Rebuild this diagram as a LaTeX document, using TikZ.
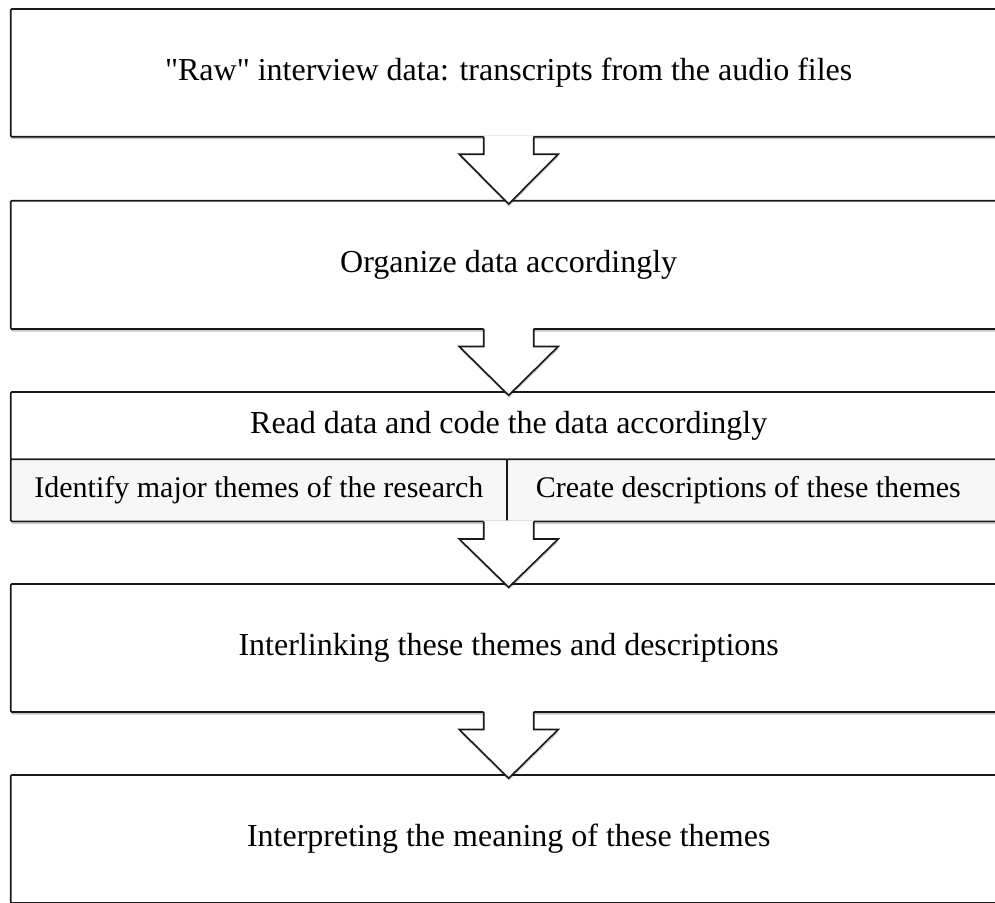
\documentclass[tikz,border=0pt]{standalone}
\usepackage{fontspec}
\setmainfont{Liberation Serif}
\usetikzlibrary{calc,shadows}

\tikzset{
  boxshadow/.style={drop shadow={shadow xshift=0.4pt, shadow yshift=-2.5pt, opacity=0.22, fill=black}},
  stage/.style={draw=black!90, line width=1.6pt, fill=white, rounded corners=1pt,
    anchor=north west, minimum width=996pt, inner sep=0pt, outer sep=0pt,
    font=\fontsize{32}{38}\selectfont, boxshadow},
  cell/.style={stage, fill=black!3, minimum height=62pt, font=\fontsize{30}{36}\selectfont},
  arrowline/.style={draw=black!90, line width=1.6pt, line join=miter},
  arrowfill/.style={fill=white, drop shadow={shadow xshift=0.4pt, shadow yshift=-2.5pt, opacity=0.18, fill=black}},
}

% block arrow hanging from the bottom of #1 with its tip just inside #2
\newcommand{\flowarrow}[2]{%
  \path[arrowfill] ($(#1.south)+(-25,-1.2)$) -- ($(#1.south)+(-25,17.5)$)
    -- ($(#1.south)+(-49.5,17.5)$) -- ($(#2.north)+(0,3.3)$)
    -- ($(#1.south)+(49.5,17.5)$) -- ($(#1.south)+(25,17.5)$)
    -- ($(#1.south)+(25,-1.2)$) -- cycle;
  \draw[arrowline] ($(#1.south)+(-25,0)$) -- ($(#1.south)+(-25,17.5)$)
    -- ($(#1.south)+(-49.5,17.5)$) -- ($(#2.north)+(0,3.3)$)
    -- ($(#1.south)+(49.5,17.5)$) -- ($(#1.south)+(25,17.5)$)
    -- ($(#1.south)+(25,0)$);
}

\begin{document}
\begin{tikzpicture}[x=1pt,y=-1pt]
  \useasboundingbox (0,0) rectangle (995,902);
  \clip (0,0) rectangle (995,902);
  \fill[white] (0,0) rectangle (995,902);

  \node[stage, minimum height=127.7pt] (b1) at (10.7,9)
    {\textquotedbl Raw\textquotedbl{} interview data: transcripts from the audio files};
  \node[stage, minimum height=128.3pt] (b2) at (10.7,200.7)
    {Organize data accordingly};
  \node[stage, minimum height=67.3pt] (b3) at (10.7,392)
    {Read data and code the data accordingly};
  \node[cell, minimum width=496.3pt] (b3a) at (10.7,459.3)
    {Identify major themes of the research};
  \node[cell, minimum width=499.7pt] (b3b) at (507,459.3)
    {Create descriptions of these themes\hspace*{17pt}};
  \node[stage, minimum height=128pt] (b4) at (10.7,584)
    {Interlinking these themes and descriptions};
  \node[stage, minimum height=128pt] (b5) at (10.7,775)
    {Interpreting the meaning of these themes};

  \node[inner sep=0pt, minimum size=0pt] (b3low) at (b3.center |- b3a.south) {};

  \flowarrow{b1}{b2}
  \flowarrow{b2}{b3}
  \flowarrow{b3low}{b4}
  \flowarrow{b4}{b5}
\end{tikzpicture}
\end{document}
